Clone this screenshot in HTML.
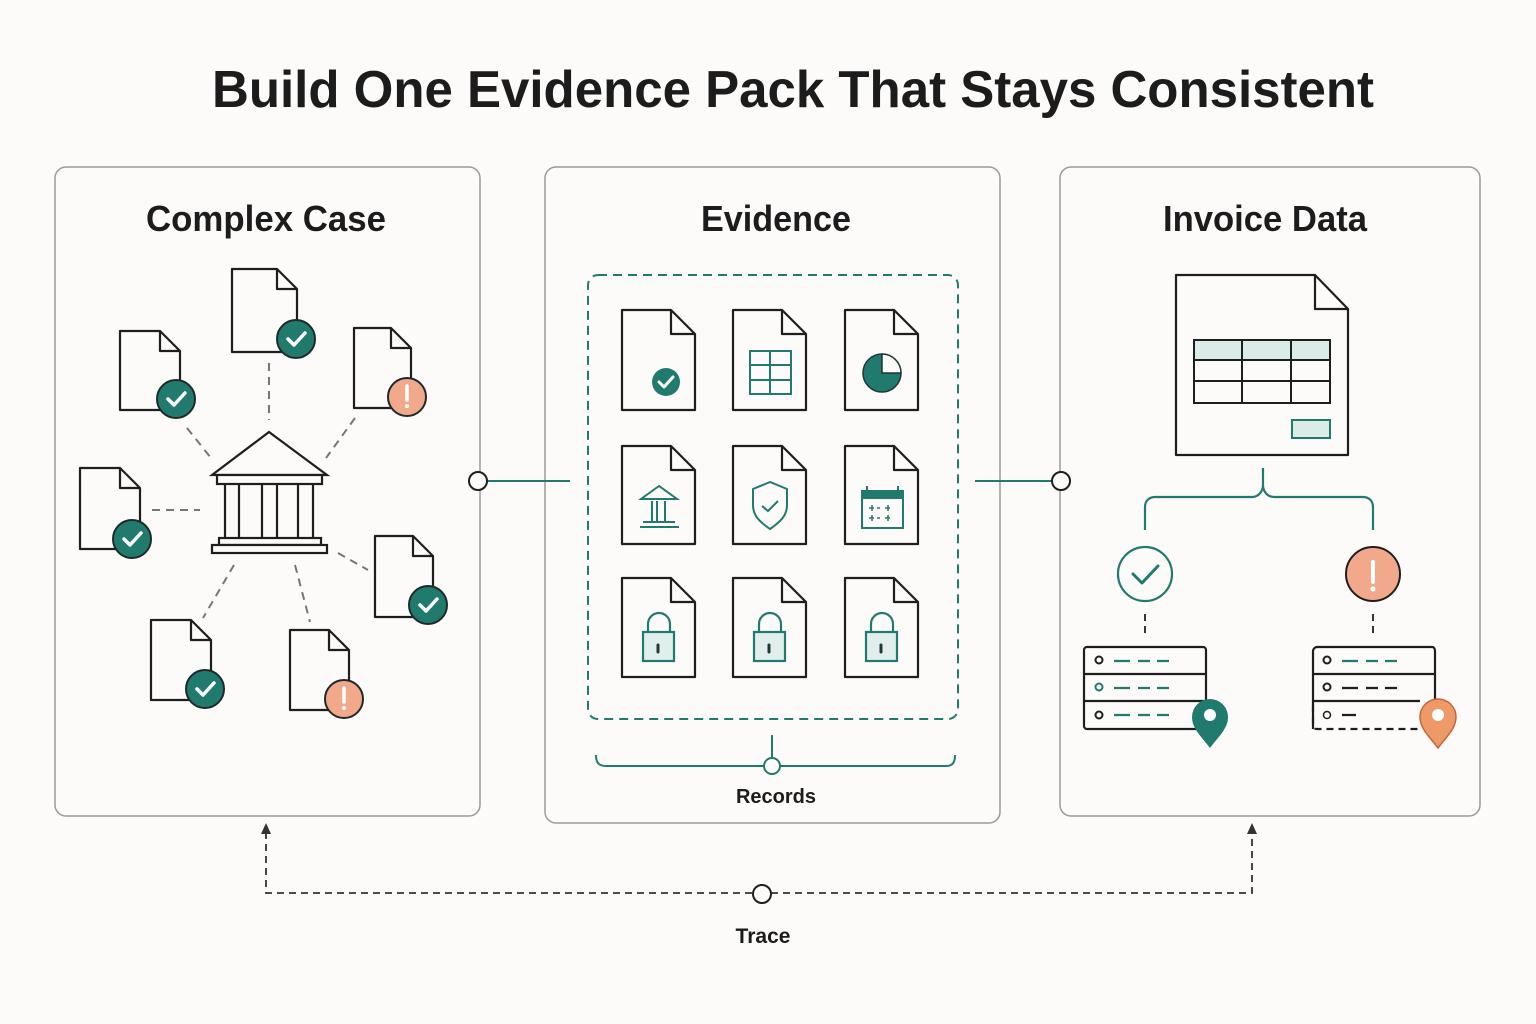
<!DOCTYPE html>
<html><head><meta charset="utf-8"><style>
html,body{margin:0;padding:0;background:#fcfbf9;}
svg{display:block;}
text{font-family:"Liberation Sans",sans-serif;fill:#1c1c1c;}
</style></head><body>
<svg width="1536" height="1024" viewBox="0 0 1536 1024" xmlns="http://www.w3.org/2000/svg">
<rect width="1536" height="1024" fill="#fcfbf9"/>
<text x="793" y="107" text-anchor="middle" font-size="52" font-weight="bold" textLength="1162" lengthAdjust="spacingAndGlyphs">Build One Evidence Pack That Stays Consistent</text>

<!-- panels -->
<g fill="#fcfbf9" stroke="#9a9a9a" stroke-width="1.5">
<rect x="55" y="167" width="425" height="649" rx="11"/>
<rect x="545" y="167" width="455" height="656" rx="11"/>
<rect x="1060" y="167" width="420" height="649" rx="11"/>
</g>
<text x="266" y="231" text-anchor="middle" font-size="36" font-weight="bold" textLength="240" lengthAdjust="spacingAndGlyphs">Complex Case</text>
<text x="776" y="231" text-anchor="middle" font-size="36" font-weight="bold" textLength="150" lengthAdjust="spacingAndGlyphs">Evidence</text>
<text x="1265" y="231" text-anchor="middle" font-size="36" font-weight="bold" textLength="204" lengthAdjust="spacingAndGlyphs">Invoice Data</text>

<!-- left dashed spokes -->
<g stroke="#777" stroke-width="2" stroke-dasharray="8,6" fill="none">
<path d="M269,363V420"/><path d="M187,428L211,458"/><path d="M355,418L326,458"/>
<path d="M152,510H200"/><path d="M338,553L368,570"/><path d="M234,565L203,618"/><path d="M295,565L310,622"/>
</g>
<!-- left docs -->
<g fill="#fcfbf9" stroke="#1e1e1e" stroke-width="2.2" stroke-linejoin="round">
<path d="M120,331H160L180,351V410H120Z M160,331V351H180"/>
<path d="M232,269H277L297,289V352H232Z M277,269V289H297"/>
<path d="M354,328H391L411,348V408H354Z M391,328V348H411"/>
<path d="M80,468H120L140,488V549H80Z M120,468V488H140"/>
<path d="M375,536H413L433,556V617H375Z M413,536V556H433"/>
<path d="M151,620H191L211,640V700H151Z M191,620V640H211"/>
<path d="M290,630H329L349,650V710H290Z M329,630V650H349"/>
</g>
<g stroke="#1e2a2a" stroke-width="2" fill="#217a6e">
<circle cx="176" cy="399" r="19"/><circle cx="296" cy="339" r="19"/><circle cx="132" cy="539" r="19"/>
<circle cx="428" cy="605" r="19"/><circle cx="205" cy="689" r="19"/>
</g>
<g stroke="#1e2a2a" stroke-width="2" fill="#f2a98b">
<circle cx="407" cy="397" r="19"/><circle cx="344" cy="699" r="19"/>
</g>
<g stroke="#fff" stroke-width="3.5" fill="none" stroke-linecap="round" stroke-linejoin="round">
<path d="M168,399L174,405L185,393"/><path d="M288,339L294,345L305,333"/><path d="M124,539L130,545L141,533"/>
<path d="M420,605L426,611L437,599"/><path d="M197,689L203,695L214,683"/>
<path d="M407,386V400"/><path d="M344,688V702"/>
</g>
<circle cx="407" cy="406" r="2" fill="#fff"/><circle cx="344" cy="708" r="2" fill="#fff"/>
<!-- bank -->
<g fill="#fcfbf9" stroke="#1e1e1e" stroke-width="2.2">
<path d="M269,432L212,475H327Z"/>
<rect x="217" y="475" width="105" height="9"/>
<path d="M225,484V538M239,484V538M262,484V538M277,484V538M298,484V538M313,484V538"/>
<rect x="219" y="538" width="102" height="7"/>
<rect x="212" y="545" width="115" height="8"/>
</g>

<!-- connectors -->
<g stroke="#217a6e" stroke-width="2" fill="none">
<path d="M487,481H570"/><path d="M975,481H1052"/>
</g>
<circle cx="478" cy="481" r="9" fill="#fcfbf9" stroke="#1e1e1e" stroke-width="2"/>
<circle cx="1061" cy="481" r="9" fill="#fcfbf9" stroke="#1e1e1e" stroke-width="2"/>

<!-- evidence dashed box -->
<rect x="588" y="275" width="370" height="444" rx="10" fill="none" stroke="#217a6e" stroke-width="2" stroke-dasharray="9,6"/>
<g fill="#fcfbf9" stroke="#1e1e1e" stroke-width="2.2" stroke-linejoin="round">
<path d="M622,310H671L695,334V410H622Z M671,310V334H695"/>
<path d="M733,310H782L806,334V410H733Z M782,310V334H806"/>
<path d="M845,310H894L918,334V410H845Z M894,310V334H918"/>
<path d="M622,446H671L695,470V544H622Z M671,446V470H695"/>
<path d="M733,446H782L806,470V544H733Z M782,446V470H806"/>
<path d="M845,446H894L918,470V544H845Z M894,446V470H918"/>
<path d="M622,578H671L695,602V677H622Z M671,578V602H695"/>
<path d="M733,578H782L806,602V677H733Z M782,578V602H806"/>
<path d="M845,578H894L918,602V677H845Z M894,578V602H918"/>
</g>
<!-- evidence icons -->
<circle cx="666" cy="382" r="14" fill="#217a6e"/>
<path d="M659,382L664,387L673,377" stroke="#fff" stroke-width="3" fill="none" stroke-linecap="round" stroke-linejoin="round"/>
<g stroke="#217a6e" stroke-width="2" fill="none">
<rect x="750" y="351" width="41" height="43"/><path d="M770,351V394M750,365H791M750,380H791"/>
</g>
<path d="M882,373V354A19,19 0 1 0 901,373Z" fill="#217a6e" stroke="#1e3a36" stroke-width="1.5"/>
<path d="M882,373V354A19,19 0 0 1 901,373Z" fill="#fcfbf9" stroke="#1e3a36" stroke-width="1.5"/>
<g stroke="#217a6e" stroke-width="2" fill="none">
<path d="M659,486L641,499H677Z"/><path d="M652,501V521M657,501V521M665,501V521"/>
<path d="M643,522H675M640,527H679"/>
<path d="M770,482L753,489V505C753,516 760,522 770,529C780,522 787,516 787,505V489Z"/>
<path d="M762,506L768,511L778,501"/>
<rect x="862" y="491" width="41" height="37"/>
<path d="M867,486V495M898,486V495"/>
<path d="M869,508H874M877,508H880M885,508H890M869,518H874M877,518H880M885,518H890M872,505V511M888,505V511M872,515V521M888,515V521" stroke-width="1.5"/>
</g>
<rect x="862" y="491" width="41" height="8" fill="#217a6e"/>
<g stroke="#217a6e" stroke-width="2.2" fill="#e1efec">
<path d="M648,632V624A11,11 0 0 1 670,624V632" fill="none"/>
<rect x="643" y="632" width="31" height="29"/>
<path d="M759,632V624A11,11 0 0 1 781,624V632" fill="none"/>
<rect x="754" y="632" width="31" height="29"/>
<path d="M871,632V624A11,11 0 0 1 893,624V632" fill="none"/>
<rect x="866" y="632" width="31" height="29"/>
</g>
<g stroke="#1e3a36" stroke-width="3" stroke-linecap="round">
<path d="M658,645V652M769,645V652M881,645V652"/>
</g>
<!-- records brace -->
<g stroke="#217a6e" stroke-width="2" fill="none">
<path d="M596,755C596,762 598,766 606,766H946C953,766 955,762 955,755"/>
<path d="M772,735V758"/>
</g>
<circle cx="772" cy="766" r="8" fill="#fcfbf9" stroke="#217a6e" stroke-width="2"/>
<text x="776" y="803" text-anchor="middle" font-size="20" font-weight="bold">Records</text>

<!-- trace -->
<g stroke="#333" stroke-width="1.8" fill="none" stroke-dasharray="7,5">
<path d="M266,832V893H753M771,893H1252V832"/>
</g>
<path d="M261,834L266,823L271,834Z M1247,834L1252,823L1257,834Z" fill="#333"/>
<circle cx="762" cy="894" r="9" fill="#fcfbf9" stroke="#1e1e1e" stroke-width="2"/>
<text x="763" y="943" text-anchor="middle" font-size="21" font-weight="bold">Trace</text>

<!-- invoice doc -->
<g fill="#fcfbf9" stroke="#1e1e1e" stroke-width="2.2" stroke-linejoin="round">
<path d="M1176,275H1315L1348,309V455H1176Z M1315,275V309H1348"/>
</g>
<rect x="1194" y="340" width="136" height="20" fill="#d9ece8"/>
<g stroke="#1e1e1e" stroke-width="2" fill="none">
<rect x="1194" y="340" width="136" height="63"/>
<path d="M1194,360H1330M1194,381H1330M1242,340V403M1291,340V403"/>
</g>
<rect x="1292" y="420" width="38" height="18" fill="#d9ece8" stroke="#217a6e" stroke-width="2"/>
<path d="M1263,468V485C1263,492 1258,497 1252,497H1155C1149,497 1145,501 1145,507V530 M1263,485C1263,492 1268,497 1274,497H1363C1369,497 1373,501 1373,507V530" stroke="#217a6e" stroke-width="2.2" fill="none"/>
<circle cx="1145" cy="574" r="27" fill="#fcfbf9" stroke="#217a6e" stroke-width="2.2"/>
<path d="M1133,574L1142,583L1158,566" stroke="#217a6e" stroke-width="3" fill="none" stroke-linecap="round" stroke-linejoin="round"/>
<circle cx="1373" cy="574" r="27" fill="#f2a98b" stroke="#1e1e1e" stroke-width="2"/>
<path d="M1373,562V582" stroke="#fff" stroke-width="4" stroke-linecap="round"/>
<circle cx="1373" cy="589" r="2.5" fill="#fff"/>
<path d="M1145,614V636M1373,614V636" stroke="#333" stroke-width="2" stroke-dasharray="7,5"/>
<!-- record lists -->
<g fill="#fcfbf9" stroke="#1e1e1e" stroke-width="2.2">
<rect x="1084" y="647" width="122" height="82" rx="3"/>
<path d="M1084,674H1206M1084,701H1206"/>
</g>
<g fill="none" stroke="#1e1e1e" stroke-width="2.2">
<path d="M1313,729V651C1313,649 1315,647 1317,647H1432C1434,647 1435,649 1435,651V700"/>
<path d="M1313,674H1435M1313,701H1420"/>
</g>
<path d="M1313,705V726C1313,728 1315,729 1317,729H1420" fill="none" stroke="#1e1e1e" stroke-width="2.2" stroke-dasharray="7,5"/>
<g fill="none" stroke="#1e1e1e" stroke-width="2">
<circle cx="1099" cy="660" r="3.5"/><circle cx="1099" cy="715" r="3.5"/>
<circle cx="1327" cy="660" r="3.5"/><circle cx="1327" cy="687" r="3.5"/><circle cx="1327" cy="715" r="3.5" stroke-width="1.5"/>
</g>
<circle cx="1099" cy="687" r="3.5" fill="none" stroke="#217a6e" stroke-width="2"/>
<g stroke="#217a6e" stroke-width="2.2">
<path d="M1114,661H1130M1138,661H1150M1157,661H1169M1114,688H1130M1138,688H1150M1157,688H1169M1114,715H1130M1138,715H1150M1157,715H1169"/>
<path d="M1342,661H1358M1366,661H1378M1385,661H1397"/>
</g>
<g stroke="#1e1e1e" stroke-width="2.2">
<path d="M1342,688H1358M1366,688H1378M1385,688H1397M1342,715H1356"/>
</g>
<!-- pins -->
<path d="M1210,748C1202,737 1192,729 1192,717A18,18 0 0 1 1228,717C1228,729 1218,737 1210,748Z" fill="#217a6e"/>
<circle cx="1210" cy="715" r="6" fill="#fff"/>
<path d="M1438,748C1430,737 1420,729 1420,717A18,18 0 0 1 1456,717C1456,729 1446,737 1438,748Z" fill="#ee9968" stroke="#c5653a" stroke-width="1.5"/>
<circle cx="1438" cy="715" r="6" fill="#fff"/>
</svg>
</body></html>
